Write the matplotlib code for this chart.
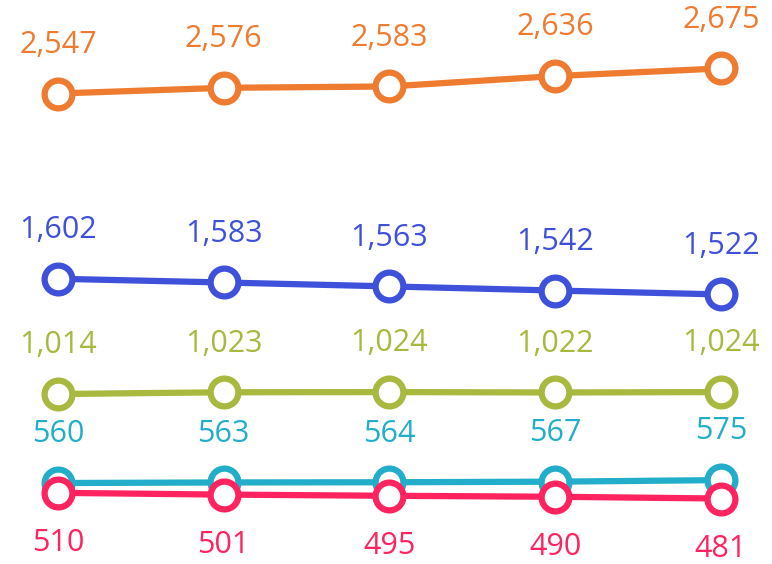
import matplotlib.pyplot as plt

x = [0, 1, 2, 3, 4]

orange = [2547, 2576, 2583, 2636, 2675]
blue = [1602, 1583, 1563, 1542, 1522]
green = [1014, 1023, 1024, 1022, 1024]
teal = [560, 563, 564, 567, 575]
red = [510, 501, 495, 490, 481]

series = [
    (orange, "#EE7B30", 1),
    (blue, "#3F51DB", 1),
    (green, "#A9B83F", 1),
    (teal, "#22AECA", 1),
    (red, "#FF2360", -1),
]

plt.rcParams["font.family"] = ["Open Sans", "DejaVu Sans"]

fig = plt.figure(figsize=(7.72, 5.64), dpi=100)
ax = fig.add_axes([0, 0, 1, 1])

for values, color, side in series:
    ax.plot(x, values, color=color, lw=4.5, marker="o", ms=20,
            mfc="white", mec=color, mew=4.5, solid_capstyle="butt")
    for xi, v in zip(x, values):
        off = 35 if side > 0 else -36
        ax.annotate(f"{v:,}", (xi, v), xytext=(0, off), textcoords="offset points",
                    ha="center", va="center", color=color, fontsize=22)

ax.set_xlim(-0.35, 4.308)
ax.set_ylim(147, 3024)
ax.axis("off")

fig.savefig("out.png", dpi=100)
